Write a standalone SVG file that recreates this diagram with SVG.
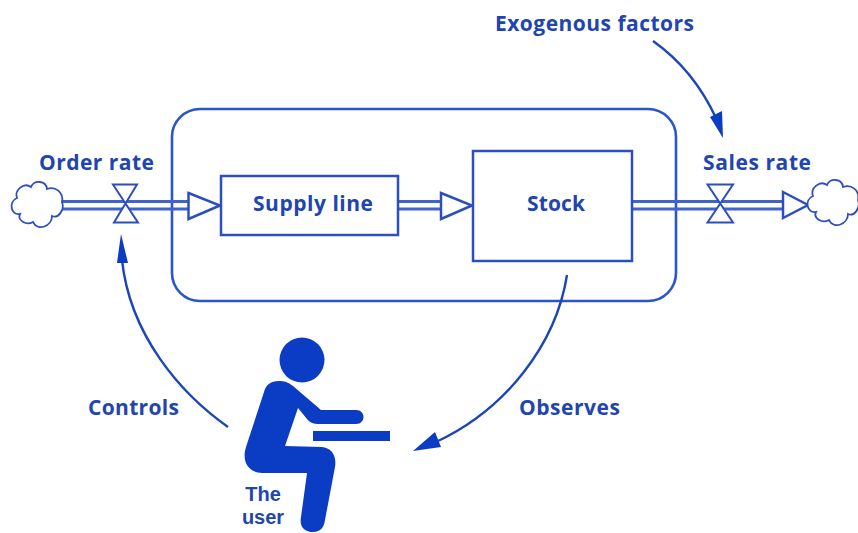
<svg xmlns="http://www.w3.org/2000/svg" width="858" height="533" viewBox="0 0 858 533">
<style>
.t{font-family:"Open Sans","Noto Sans","Liberation Sans",sans-serif;font-weight:700;font-size:21px;fill:#2145b0;text-anchor:middle}
.u{font-family:"Liberation Sans",Arial,sans-serif;font-weight:700;font-size:20px;fill:#2145b0;text-anchor:middle}
.b{fill:#fff;stroke:#2b4fbf;stroke-width:2.500}
.fl{fill:none;stroke:#3f63cf;stroke-width:3}
.v{fill:#fff;stroke:#2b4fbf;stroke-width:2}
.c{fill:#fff;stroke:#2b4fbf;stroke-width:1.800}
.ar{fill:none;stroke:#1c46b8;stroke-width:2.400}
.ah{fill:#0b3cc4}
.fig{fill:#0b3cc4}
</style>
<defs>
<path id="cloud" d="M17 198C14 190 24 182 31 187C34 180 46 180 47 189C55 186 64 192 62 202C65 210 58 219 52 216C52 226 38 232 33 222C26 226 17 220 20 214C11 216 8 202 17 198Z"/>
</defs>
<rect width="858" height="533" fill="#fff"/>
<g id="boundary"><rect x="172" y="109" width="504" height="192" rx="28" ry="28" fill="none" stroke="#2a55cc" stroke-width="2.600"/></g>
<g id="connectors">
<path class="fl" d="M60 201.500H190M60 209H190"/>
<path class="fl" d="M398 201.500H441M398 209H441"/>
<path class="fl" d="M632 201.500H783M632 209H783"/>
<polygon class="b" points="188.500,193 220,205.500 188.500,219"/>
<polygon class="b" points="441,193 472,205.500 441,219"/>
<polygon class="b" points="783,192 808,205 783,218"/>
<path class="ar" d="M228 427C180 393 130 335 122 260"/>
<polygon class="ah" points="121,234 128,263 117,263"/>
<path class="ar" d="M567 275C556 345 505 410 436 442"/>
<polygon class="ah" points="413,451 435,432 441,447"/>
<path class="ar" d="M653 41C680 60 702 88 716 118"/>
<polygon class="ah" points="723,138 710,117 722,111"/>
</g>
<g id="order-cloud"><use href="#cloud" class="c"/></g>
<g id="order-valve"><path class="v" d="M113 184.500H137L114 222.500H138Z"/><text class="t" x="96.500" y="170" textLength="115">Order rate</text></g>
<g id="supply-line"><rect class="b" x="221" y="176" width="177" height="59"/><text class="t" x="313" y="211" textLength="120">Supply line</text></g>
<g id="stock"><rect class="b" x="473" y="151" width="159" height="110"/><text class="t" x="556" y="211" textLength="58">Stock</text></g>
<g id="sales-valve"><path class="v" d="M707.500 184.500H733L707.500 222.500H733Z"/><text class="t" x="757" y="170" textLength="108">Sales rate</text></g>
<g id="sales-cloud"><use href="#cloud" class="c" x="796" y="-2"/></g>
<g id="exogenous"><text class="t" x="594.500" y="31" textLength="199">Exogenous factors</text></g>
<g id="controls"><text class="t" x="133.500" y="415" textLength="91">Controls</text></g>
<g id="observes"><text class="t" x="569.500" y="415" textLength="101">Observes</text></g>
<g id="user">
<circle class="fig" cx="302" cy="360" r="22.500"/>
<path class="fig" d="M279 381C270 381 266 385 264 392L246 447C241 463 250 473 262 473H307L301 517C299 527 305 532 313 532C320 532 324 528 325 520L335 467C337 455 331 448 322 447L285 446L298 408L307 419C310 423 314 424 319 424H356C366 424 366 410 356 410H321L293 386C288 382 284 381 279 381Z"/>
<rect class="fig" x="313" y="431" width="77" height="10"/>
<text class="u" x="263" y="501">The</text>
<text class="u" x="263" y="524">user</text>
</g>
</svg>
